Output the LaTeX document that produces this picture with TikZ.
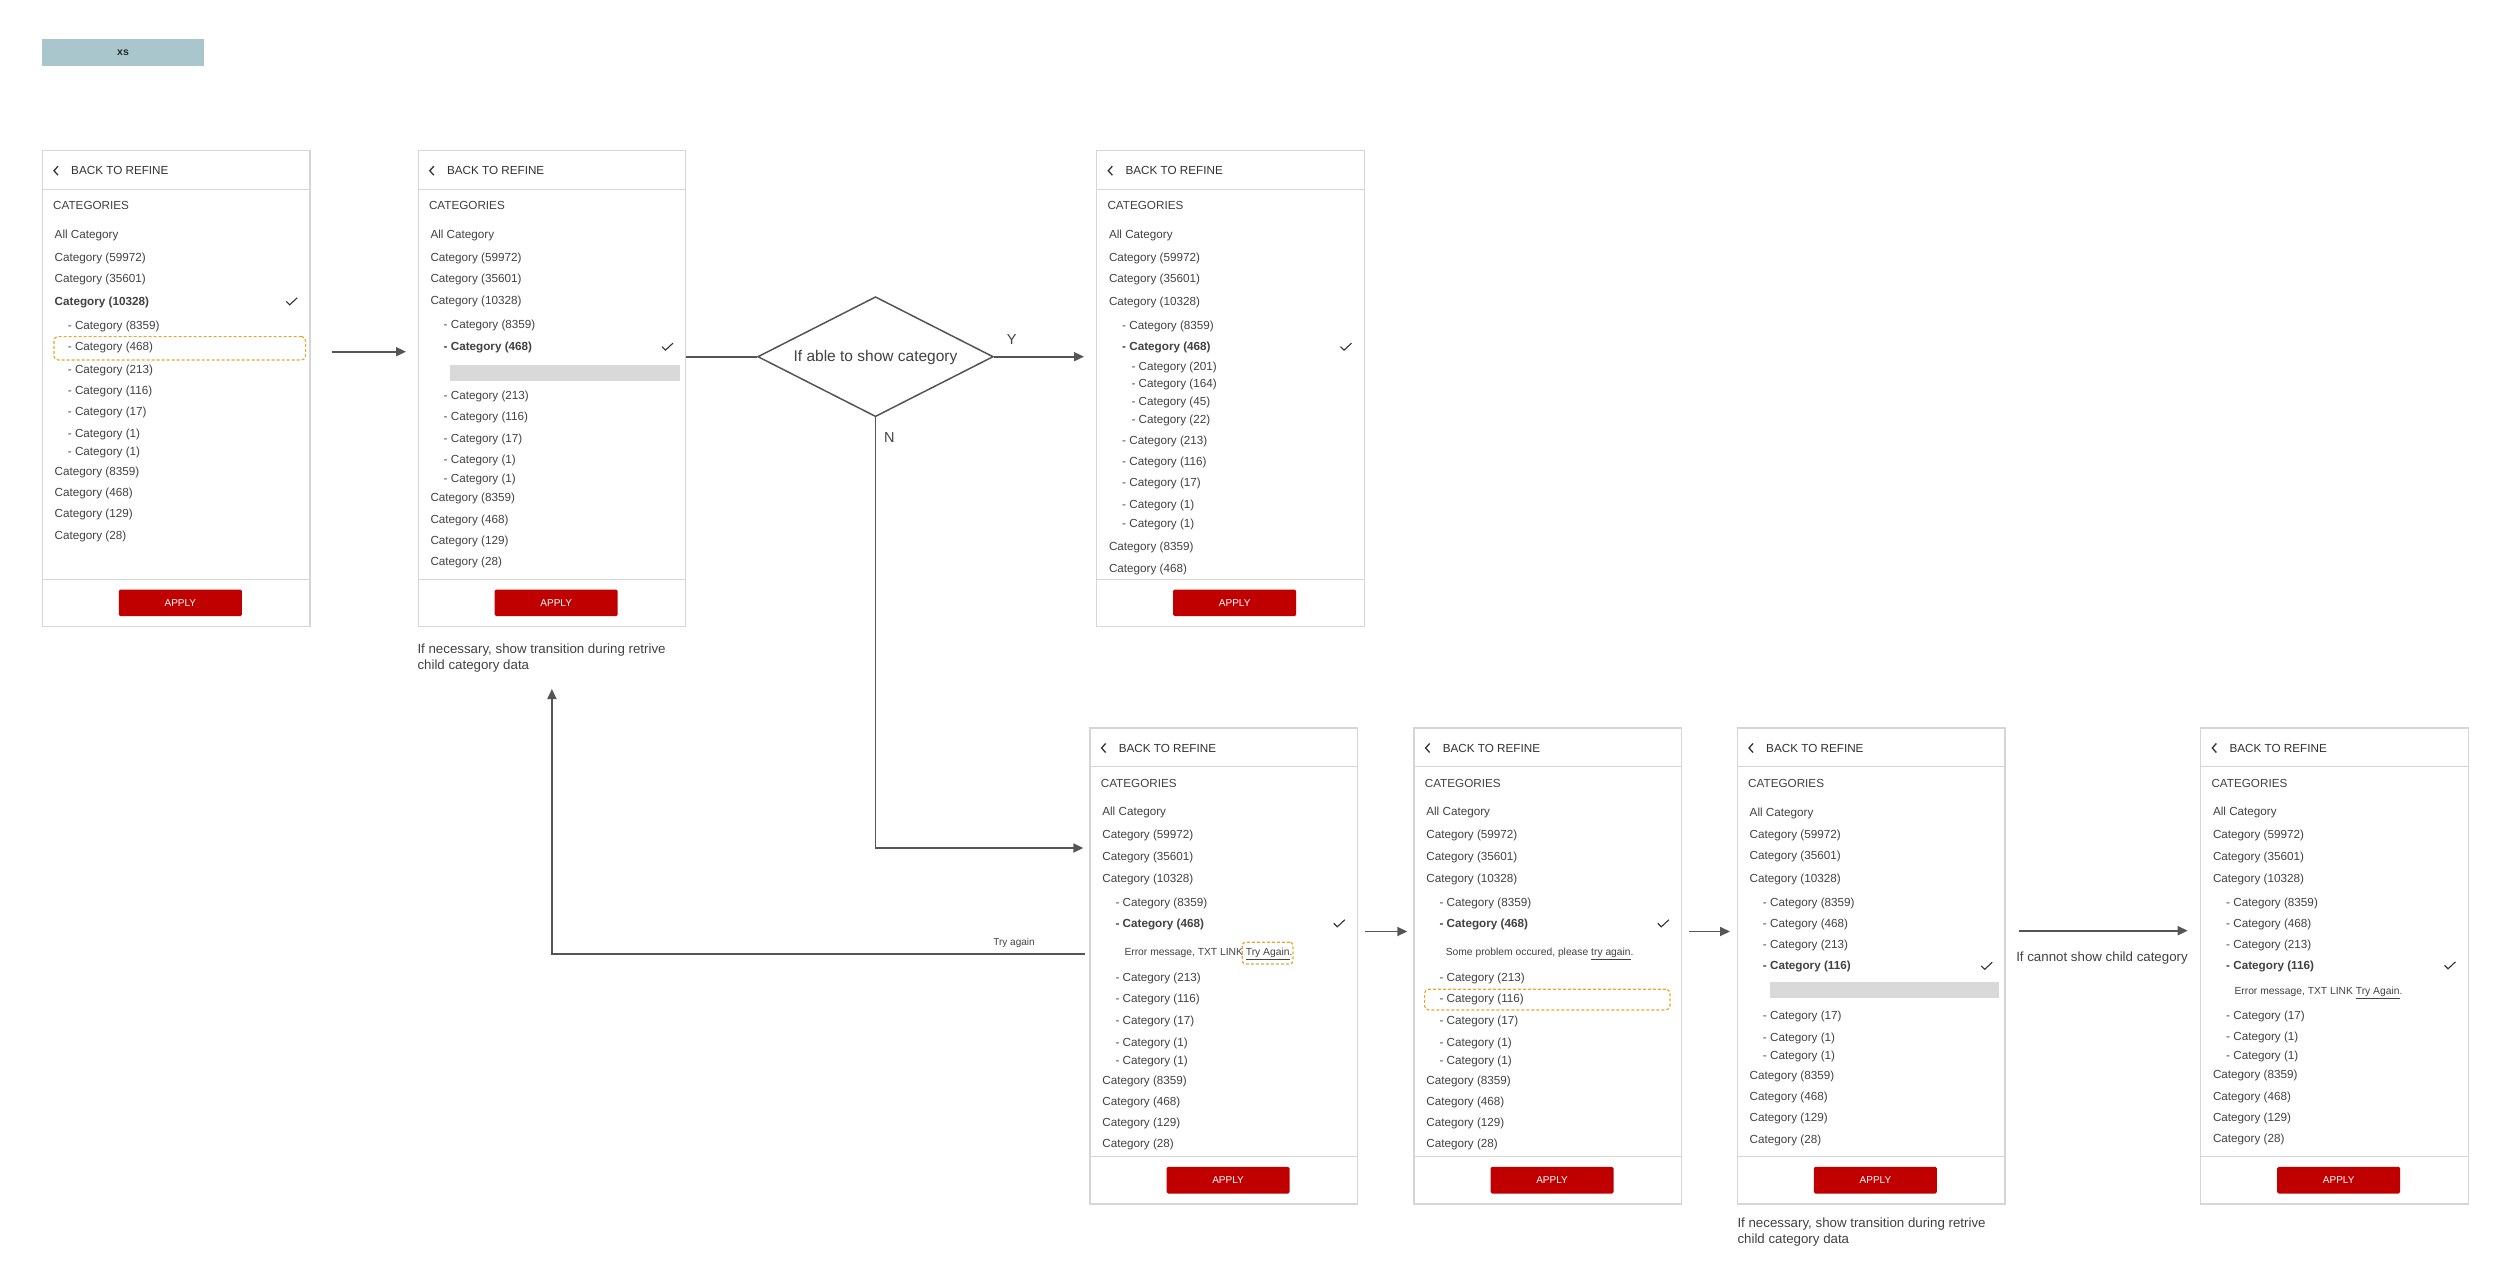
\documentclass[tikz,border=0pt]{standalone}
\usepackage{fontspec}
\setmainfont{Liberation Sans}
\usetikzlibrary{arrows.meta,shapes.geometric}
\definecolor{txt}{HTML}{424242}
\definecolor{hdrc}{HTML}{333333}
\definecolor{framec}{HTML}{D6D6D6}
\definecolor{connc}{HTML}{555555}
\definecolor{applyred}{HTML}{C00000}
\definecolor{barg}{HTML}{D9D9D9}
\definecolor{hlc}{HTML}{E3A92F}
\definecolor{xsbg}{HTML}{A8C6CC}
\tikzset{
 panelbox/.style={draw=framec,line width=1.3pt,minimum width=267.5pt,minimum height=476pt,inner sep=0pt},
 sepline/.style={draw=framec,line width=1.2pt},
 itm/.style={inner sep=0pt,text=txt,font=\fontsize{11.7}{14}\selectfont},
 hdr/.style={inner sep=0pt,text=hdrc,font=\fontsize{11.7}{14}\selectfont},
 chev/.style={draw=hdrc,line width=1.3pt},
 tickmark/.style={draw=hdrc,line width=1.1pt},
 applybtn/.style={fill=applyred,rounded corners=1.5pt,minimum width=123pt,minimum height=26.7pt,inner sep=0pt,text=white,font=\fontsize{10}{12}\selectfont,anchor=north west},
 loadbar/.style={fill=barg,inner sep=0pt,anchor=north west},
 hilite/.style={draw=hlc,dash pattern=on 3pt off 2pt,line width=1.2pt,rounded corners=4pt,inner sep=0pt,anchor=north west},
 conn/.style={draw=connc,line width=1.7pt,-{Triangle[length=10pt,width=9pt]}},
 plainconn/.style={draw=connc,line width=1.7pt},
 errtxt/.style={inner sep=0pt,text=txt,font=\fontsize{10.3}{12}\selectfont},
 notetxt/.style={inner sep=0pt,text=txt,font=\fontsize{13.3}{16}\selectfont},
 flowlbl/.style={inner sep=0pt,text=txt,font=\fontsize{14.5}{17}\selectfont},
 smalllbl/.style={inner sep=0pt,text=txt,font=\fontsize{10}{12}\selectfont},
}
\newcounter{tn}
\newcommand\ci[3]{\stepcounter{tn}\node[itm,anchor=base west] (t\arabic{tn}) at (#1,#2+4) {#3};}
\newcommand\tickat[1]{\draw[tickmark] (244.5,#1) -- (248,#1+3.5) -- (255.5,#1-3.5);}
\newcommand\uipanel[4]{%
 \begin{scope}[shift={(#2,#3)}]
 \node[panelbox,anchor=north west] (#1) at (0,0) {};
 \draw[sepline] (0,39.3) -- (267.5,39.3);
 \draw[sepline] (0,429.2) -- (267.5,429.2);
 \draw[chev] (16.3,16.2) -- (12.3,20.7) -- (16.3,25.2);
 \node[hdr,anchor=base west] (#1back) at (29.3,24.9) {BACK TO REFINE};
 \node[itm,anchor=base west] (#1cat) at (11.3,59.8) {CATEGORIES};
 \node[applybtn] (#1apply) at (77,439.3) {APPLY};
 #4
 \end{scope}}
\begin{document}
\begin{tikzpicture}[x=1pt,y=-1pt]
\useasboundingbox (0,0) rectangle (2500,1281);
\path[fill=white] (0,0) rectangle (2500,1281);

\node[fill=xsbg,minimum width=162.3pt,minimum height=26.4pt,inner sep=0pt,anchor=north west,font=\bfseries\fontsize{10.5}{12}\selectfont,text=black!85] (xs) at (41.7,39.3) {xs};

% Panel 1
\uipanel{p1}{41.7}{150}{
\ci{12.8}{85}{All Category}
\ci{12.8}{107.3}{Category (59972)}
\ci{12.8}{128.7}{Category (35601)}
\ci{12.8}{151.3}{\textbf{Category (10328)}}
\tickat{151.3}
\ci{26}{175}{- Category (8359)}
\ci{26}{196.7}{- Category (468)}
\node[hilite,minimum width=251.7pt,minimum height=23.3pt] (hl1) at (11.6,186) {};
\ci{26}{219}{- Category (213)}
\ci{26}{240}{- Category (116)}
\ci{26}{261.3}{- Category (17)}
\ci{26}{283}{- Category (1)}
\ci{26}{301.7}{- Category (1)}
\ci{12.8}{321}{Category (8359)}
\ci{12.8}{342.3}{Category (468)}
\ci{12.8}{363.3}{Category (129)}
\ci{12.8}{385}{Category (28)}
}

% Panel 2
\uipanel{p2}{417.5}{150}{
\ci{12.8}{84.7}{All Category}
\ci{12.8}{107.1}{Category (59972)}
\ci{12.8}{128.8}{Category (35601)}
\ci{12.8}{150.8}{Category (10328)}
\ci{26}{174.9}{- Category (8359)}
\ci{26}{196.6}{\textbf{- Category (468)}}
\tickat{196.6}
\node[loadbar,minimum width=229.7pt,minimum height=16.2pt] (bar2) at (32.7,214.5) {};
\ci{26}{245.5}{- Category (213)}
\ci{26}{266.5}{- Category (116)}
\ci{26}{288.2}{- Category (17)}
\ci{26}{309.6}{- Category (1)}
\ci{26}{328.5}{- Category (1)}
\ci{12.8}{347.4}{Category (8359)}
\ci{12.8}{369.1}{Category (468)}
\ci{12.8}{390.1}{Category (129)}
\ci{12.8}{411.5}{Category (28)}
}
\node[notetxt,anchor=base west] (cap2a) at (417.3,653.7) {If necessary, show transition during retrive};
\node[notetxt,anchor=base west] (cap2b) at (417.3,669.5) {child category data};

% Panel 3
\uipanel{p3}{1096}{150}{
\ci{12.8}{85}{All Category}
\ci{12.8}{107.3}{Category (59972)}
\ci{12.8}{128.7}{Category (35601)}
\ci{12.8}{151.3}{Category (10328)}
\ci{26}{175}{- Category (8359)}
\ci{26}{196.7}{\textbf{- Category (468)}}
\tickat{196.7}
\ci{35.3}{216}{- Category (201)}
\ci{35.3}{233.7}{- Category (164)}
\ci{35.3}{251}{- Category (45)}
\ci{35.3}{269}{- Category (22)}
\ci{26}{290.3}{- Category (213)}
\ci{26}{311.3}{- Category (116)}
\ci{26}{332.7}{- Category (17)}
\ci{26}{354.3}{- Category (1)}
\ci{26}{373}{- Category (1)}
\ci{12.8}{396.7}{Category (8359)}
\ci{12.8}{418.3}{Category (468)}
}

% Panel 4
\uipanel{p4}{1089.3}{727.3}{
\ci{12.8}{84.4}{All Category}
\ci{12.8}{107}{Category (59972)}
\ci{12.8}{128.7}{Category (35601)}
\ci{12.8}{150.7}{Category (10328)}
\ci{26}{174.7}{- Category (8359)}
\ci{26}{196}{\textbf{- Category (468)}}
\tickat{196}
\node[errtxt,anchor=base west] (err4) at (35,228) {Error message, TXT LINK \underline{Try Again}.};
\node[hilite,minimum width=50.6pt,minimum height=21.6pt,rounded corners=3pt] (hl4) at (152.4,214.4) {};
\ci{26}{250.4}{- Category (213)}
\ci{26}{271.4}{- Category (116)}
\ci{26}{292.7}{- Category (17)}
\ci{26}{314.7}{- Category (1)}
\ci{26}{333.4}{- Category (1)}
\ci{12.8}{352.7}{Category (8359)}
\ci{12.8}{374.4}{Category (468)}
\ci{12.8}{395}{Category (129)}
\ci{12.8}{416}{Category (28)}
}

% Panel 5
\uipanel{p5}{1413.3}{727.3}{
\ci{12.8}{84.4}{All Category}
\ci{12.8}{107}{Category (59972)}
\ci{12.8}{128.7}{Category (35601)}
\ci{12.8}{150.7}{Category (10328)}
\ci{26}{174.7}{- Category (8359)}
\ci{26}{196}{\textbf{- Category (468)}}
\tickat{196}
\node[errtxt,anchor=base west] (err5) at (32.3,228) {Some problem occured, please \underline{try again}.};
\ci{26}{250.4}{- Category (213)}
\ci{26}{271.4}{- Category (116)}
\node[hilite,minimum width=245.3pt,minimum height=20.6pt] (hl5) at (10.7,261.4) {};
\ci{26}{292.7}{- Category (17)}
\ci{26}{314.7}{- Category (1)}
\ci{26}{333.4}{- Category (1)}
\ci{12.8}{352.7}{Category (8359)}
\ci{12.8}{374.4}{Category (468)}
\ci{12.8}{395}{Category (129)}
\ci{12.8}{416}{Category (28)}
}

% Panel 6
\uipanel{p6}{1736.7}{727.3}{
\ci{12.8}{84.7}{All Category}
\ci{12.8}{107}{Category (59972)}
\ci{12.8}{128.6}{Category (35601)}
\ci{12.8}{150.9}{Category (10328)}
\ci{26}{175.3}{- Category (8359)}
\ci{26}{196.6}{- Category (468)}
\ci{26}{217.5}{- Category (213)}
\ci{26}{238.5}{\textbf{- Category (116)}}
\tickat{238.5}
\node[loadbar,minimum width=228.7pt,minimum height=15.9pt] (bar6) at (33.3,254.7) {};
\ci{26}{287.8}{- Category (17)}
\ci{26}{309.8}{- Category (1)}
\ci{26}{328.4}{- Category (1)}
\ci{12.8}{347.7}{Category (8359)}
\ci{12.8}{369}{Category (468)}
\ci{12.8}{389.9}{Category (129)}
\ci{12.8}{411.9}{Category (28)}
}
\node[notetxt,anchor=base west] (cap6a) at (1737.3,1227.4) {If necessary, show transition during retrive};
\node[notetxt,anchor=base west] (cap6b) at (1737.3,1243) {child category data};

% Panel 7
\uipanel{p7}{2200}{727.3}{
\ci{12.8}{84.4}{All Category}
\ci{12.8}{107}{Category (59972)}
\ci{12.8}{128.7}{Category (35601)}
\ci{12.8}{150.7}{Category (10328)}
\ci{26}{174.7}{- Category (8359)}
\ci{26}{196}{- Category (468)}
\ci{26}{217}{- Category (213)}
\ci{26}{238}{\textbf{- Category (116)}}
\tickat{238}
\node[errtxt,anchor=base west] (err7) at (34.3,267) {Error message, TXT LINK \underline{Try Again}.};
\ci{26}{287.7}{- Category (17)}
\ci{26}{309.4}{- Category (1)}
\ci{26}{328}{- Category (1)}
\ci{12.8}{347.4}{Category (8359)}
\ci{12.8}{369}{Category (468)}
\ci{12.8}{389.7}{Category (129)}
\ci{12.8}{411.4}{Category (28)}
}

% Decision
\node[draw=connc,line width=1.5pt,diamond,minimum width=235.6pt,minimum height=120pt,inner sep=0pt] (dec) at (875.5,356.7) {};
\node[inner sep=0pt,text=txt,font=\fontsize{15.5}{18}\selectfont] (dect) at (875.5,357.5) {If able to show category};

% Connectors
\coordinate (r1) at (0,351.7);
\draw[conn,shorten <=21pt,shorten >=11.5pt] (p1.east |- r1) -- (p2.west |- r1);
\draw[plainconn] (p2.east |- dec.west) -- (dec.west);
\draw[conn,shorten >=12pt] (dec.east) -- (p3.west |- dec.east);
\node[flowlbl] (ylab) at (1011.7,340) {Y};
\coordinate (nrow) at (0,848);
\draw[conn,shorten >=6pt] (dec.south) |- (p4.west |- nrow);
\node[flowlbl] (nlab) at (889.3,437.3) {N};
\coordinate (tryrow) at (0,954);
\coordinate (tipy) at (0,689);
\draw[conn,shorten <=4.5pt] (p4.west |- tryrow) -| (p2.south |- tipy);
\node[smalllbl] (trylab) at (1014,943.3) {Try again};
\coordinate (r2) at (0,931.5);
\draw[conn,shorten <=7.2pt,shorten >=6pt] (p4.east |- r2) -- (p5.west |- r2);
\draw[conn,shorten <=7.2pt,shorten >=6.7pt] (p5.east |- r2) -- (p6.west |- r2);
\coordinate (r3) at (0,930.7);
\draw[conn,shorten <=13.1pt,shorten >=12.3pt] (p6.east |- r3) -- (p7.west |- r3);
\node[notetxt] (cantlab) at (2102,958) {If cannot show child category};
\end{tikzpicture}
\end{document}
